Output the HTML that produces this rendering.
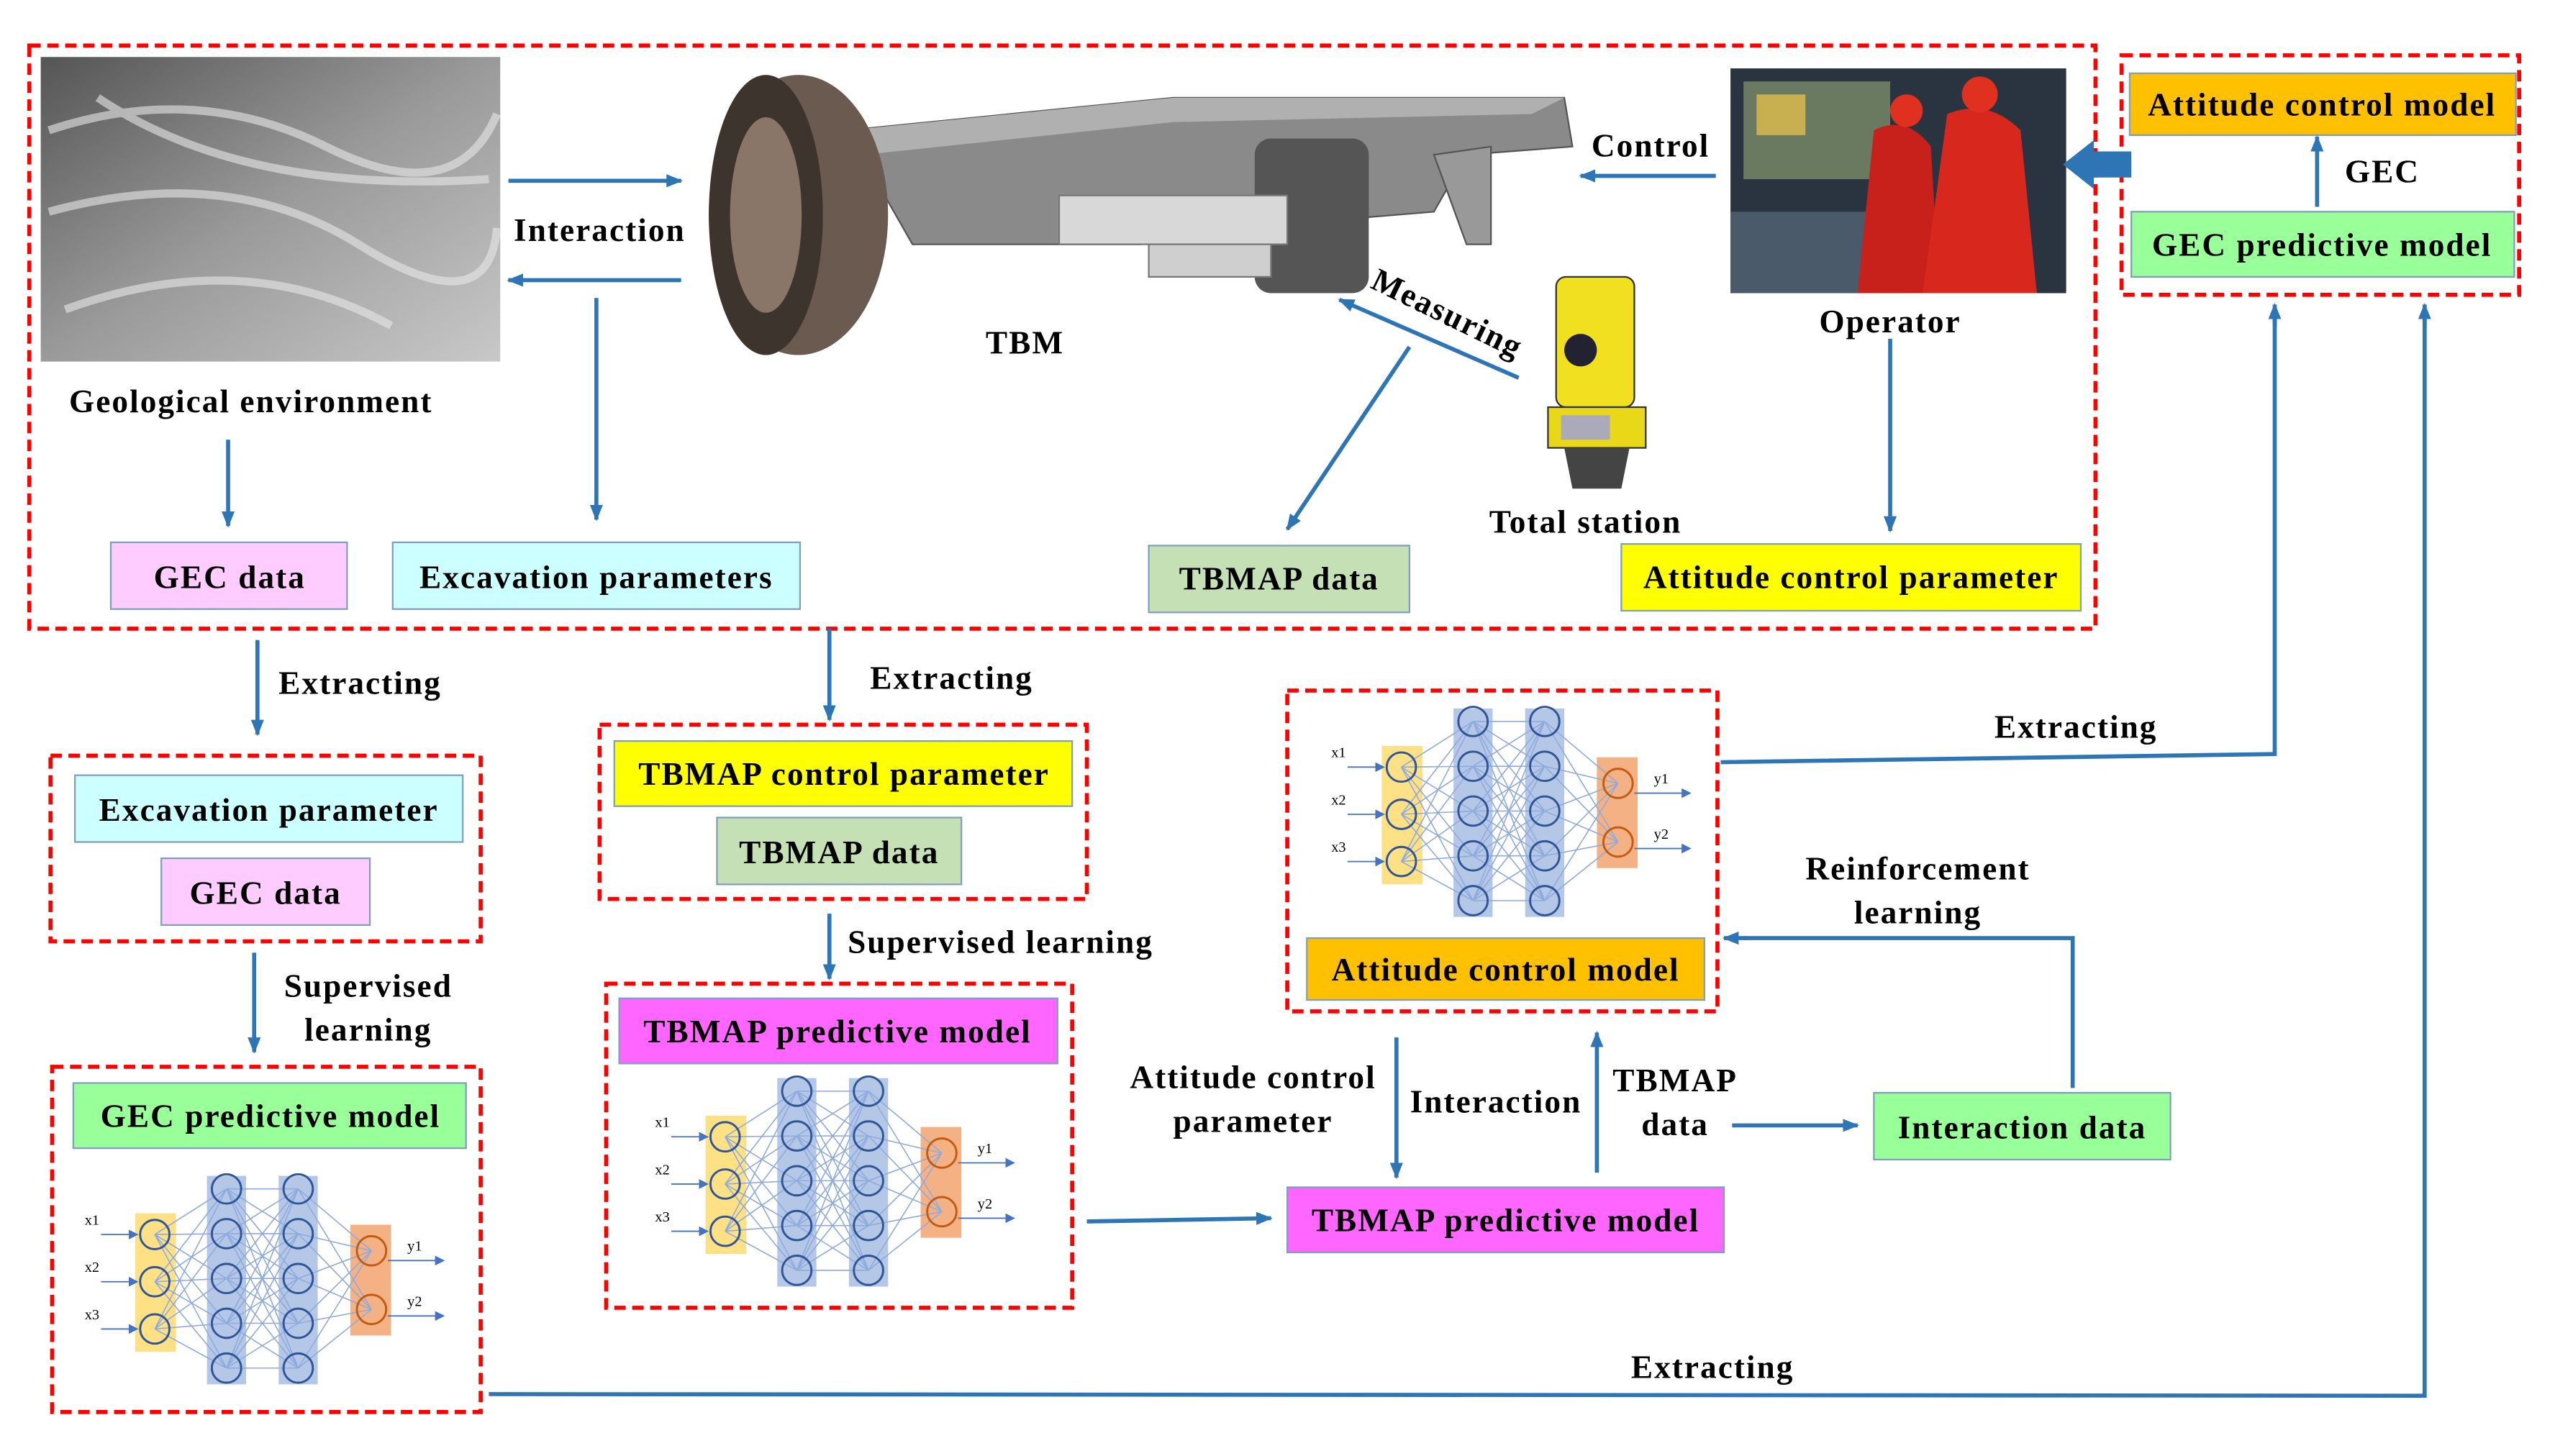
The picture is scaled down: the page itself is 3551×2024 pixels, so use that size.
<!DOCTYPE html>
<html><head><meta charset="utf-8"><style>
html,body{margin:0;padding:0;background:#fff}
svg{display:block}
text{font-family:"Liberation Serif",serif;font-weight:bold;font-size:20px;letter-spacing:0.9px;fill:#000}
.rd{fill:none;stroke:#ff0000;stroke-width:2.5;stroke-dasharray:7,4}
.bx{stroke:#7f9fbf;stroke-width:1}
.ar{stroke:#2e75b6;stroke-width:2.5;fill:none;marker-end:url(#ah)}
.ln{stroke:#2e75b6;stroke-width:2.5;fill:none}
</style></head><body>
<svg width="3551" height="2024" viewBox="0 0 1568 894" preserveAspectRatio="none" xmlns="http://www.w3.org/2000/svg">
<defs>
<marker id="ah" markerWidth="10" markerHeight="8" refX="9" refY="4" orient="auto" markerUnits="userSpaceOnUse"><path d="M0,0L10,4L0,8z" fill="#2e75b6"/></marker>
<marker id="sa" markerWidth="6" markerHeight="6" refX="5" refY="3" orient="auto" markerUnits="userSpaceOnUse"><path d="M0,0L6,3L0,6z" fill="#4472c4"/></marker>
<linearGradient id="geo" x1="0" y1="0" x2="1" y2="1"><stop offset="0" stop-color="#555"/><stop offset="0.5" stop-color="#9a9a9a"/><stop offset="1" stop-color="#c8c8c8"/></linearGradient>
<g id="nn">
<rect x="33" y="25" width="25" height="85" fill="#ffd966" opacity="0.8"/>
<rect x="77" y="2" width="24" height="128" fill="#b4c7e7"/>
<rect x="121" y="2" width="24" height="128" fill="#b4c7e7"/>
<rect x="165" y="32" width="25" height="68" fill="#f4b183"/>
<path stroke="#8faadc" stroke-width="0.7" fill="none" d="M45 38L89 10M45 38L89 37.5M45 38L89 65M45 38L89 92.5M45 38L89 120M45 67L89 10M45 67L89 37.5M45 67L89 65M45 67L89 92.5M45 67L89 120M45 96L89 10M45 96L89 37.5M45 96L89 65M45 96L89 92.5M45 96L89 120
M89 10L133 10M89 10L133 37.5M89 10L133 65M89 10L133 92.5M89 10L133 120M89 37.5L133 10M89 37.5L133 37.5M89 37.5L133 65M89 37.5L133 92.5M89 37.5L133 120M89 65L133 10M89 65L133 37.5M89 65L133 65M89 65L133 92.5M89 65L133 120M89 92.5L133 10M89 92.5L133 37.5M89 92.5L133 65M89 92.5L133 92.5M89 92.5L133 120M89 120L133 10M89 120L133 37.5M89 120L133 65M89 120L133 92.5M89 120L133 120
M133 10L178 48M133 37.5L178 48M133 65L178 48M133 92.5L178 48M133 120L178 48M133 10L178 84M133 37.5L178 84M133 65L178 84M133 92.5L178 84M133 120L178 84"/>
<g fill="none" stroke="#2f5597" stroke-width="1.3">
<circle cx="45" cy="38" r="9"/><circle cx="45" cy="67" r="9"/><circle cx="45" cy="96" r="9"/>
<circle cx="89" cy="10" r="9"/><circle cx="89" cy="37.5" r="9"/><circle cx="89" cy="65" r="9"/><circle cx="89" cy="92.5" r="9"/><circle cx="89" cy="120" r="9"/>
<circle cx="133" cy="10" r="9"/><circle cx="133" cy="37.5" r="9"/><circle cx="133" cy="65" r="9"/><circle cx="133" cy="92.5" r="9"/><circle cx="133" cy="120" r="9"/>
<circle cx="178" cy="48" r="9" stroke="#c55a11"/><circle cx="178" cy="84" r="9" stroke="#c55a11"/>
</g>
<g stroke="#4472c4" stroke-width="0.8" marker-end="url(#sa)"><line x1="12" y1="38" x2="34" y2="38"/><line x1="12" y1="67" x2="34" y2="67"/><line x1="12" y1="96" x2="34" y2="96"/><line x1="188" y1="54" x2="222" y2="54"/><line x1="188" y1="88" x2="222" y2="88"/></g>
<g><text x="2" y="32" style="font-size:9px;font-weight:normal;letter-spacing:0">x1</text><text x="2" y="61" style="font-size:9px;font-weight:normal;letter-spacing:0">x2</text><text x="2" y="90" style="font-size:9px;font-weight:normal;letter-spacing:0">x3</text><text x="200" y="48" style="font-size:9px;font-weight:normal;letter-spacing:0">y1</text><text x="200" y="82" style="font-size:9px;font-weight:normal;letter-spacing:0">y2</text></g>
</g>
</defs>

<rect class="rd" x="18" y="28" width="1268" height="358"/>
<rect class="rd" x="1302" y="34" width="244" height="147"/>
<rect class="rd" x="31" y="464" width="264" height="114"/>
<rect class="rd" x="368" y="445" width="299" height="107"/>
<rect class="rd" x="32" y="655" width="263" height="212"/>
<rect class="rd" x="372" y="604" width="286" height="199"/>
<rect class="rd" x="790" y="424" width="264" height="197"/>

<rect x="25" y="35" width="282" height="187" fill="url(#geo)"/>
<path d="M30 80Q120 50 200 90T305 70M30 130Q140 100 220 150T305 140M40 190Q150 150 240 200M60 60Q150 120 300 110" stroke="#e8e8e8" stroke-width="5" fill="none" opacity="0.6"/>

<polygon points="520,80 720,60 960,60 965,90 900,95 880,130 760,140 700,150 560,150" fill="#8a8a8a" stroke="#555"/>
<polygon points="520,80 720,60 960,60 940,70 720,75 530,95" fill="#b0b0b0"/>
<rect x="770" y="85" width="70" height="95" rx="10" fill="#555"/>
<rect x="650" y="120" width="140" height="30" fill="#d8d8d8" stroke="#777"/>
<rect x="705" y="150" width="75" height="20" fill="#cfcfcf" stroke="#777"/>
<ellipse cx="490" cy="132" rx="55" ry="86" fill="#6a5a50"/>
<ellipse cx="470" cy="132" rx="35" ry="86" fill="#3e342e"/>
<ellipse cx="470" cy="132" rx="22" ry="60" fill="#8a7668"/>
<polygon points="880,95 915,90 915,150 900,150" fill="#999" stroke="#555"/>

<rect x="1062" y="42" width="206" height="138" fill="#2a3440"/>
<rect x="1070" y="50" width="90" height="60" fill="#6a7a60"/><rect x="1078" y="58" width="30" height="25" fill="#c8b050"/>
<rect x="1062" y="130" width="110" height="50" fill="#4a5a6a"/>
<path d="M1150 80Q1170 70 1185 90L1190 180L1140 180Z" fill="#c8201a"/>
<path d="M1195 70Q1220 60 1240 80L1250 180L1180 180Z" fill="#d8281e"/>
<circle cx="1170" cy="68" r="10" fill="#e03020"/><circle cx="1215" cy="58" r="11" fill="#e03020"/>

<rect x="955" y="170" width="48" height="80" rx="6" fill="#f0e020" stroke="#333"/>
<circle cx="970" cy="215" r="10" fill="#223"/>
<rect x="950" y="250" width="60" height="25" fill="#e8d818" stroke="#333"/>
<rect x="958" y="255" width="30" height="15" fill="#aab"/>
<polygon points="960,275 1000,275 995,300 965,300" fill="#444"/>

<rect class="bx" x="68" y="333" width="145" height="41" fill="#ffccff"/>
<rect class="bx" x="241" y="333" width="250" height="41" fill="#ccffff"/>
<rect class="bx" x="705" y="335" width="160" height="41" fill="#c5e0b4"/>
<rect class="bx" x="995" y="334" width="282" height="41" fill="#ffff00"/>
<rect class="bx" x="1307" y="45" width="237" height="38" fill="#ffc000"/>
<rect class="bx" x="1308" y="130" width="235" height="40" fill="#99ff99"/>
<rect class="bx" x="46" y="476" width="238" height="41" fill="#ccffff"/>
<rect class="bx" x="99" y="527" width="128" height="41" fill="#ffccff"/>
<rect class="bx" x="377" y="455" width="281" height="40" fill="#ffff00"/>
<rect class="bx" x="440" y="502" width="150" height="41" fill="#c5e0b4"/>
<rect class="bx" x="45" y="665" width="241" height="40" fill="#99ff99"/>
<rect class="bx" x="380" y="613" width="269" height="40" fill="#ff66ff"/>
<rect class="bx" x="802" y="576" width="244" height="38" fill="#ffc000"/>
<rect class="bx" x="790" y="729" width="268" height="40" fill="#ff66ff"/>
<rect class="bx" x="1150" y="671" width="182" height="41" fill="#99ff99"/>

<use href="#nn" x="50" y="720"/>
<use href="#nn" x="400" y="660"/>
<use href="#nn" x="815" y="433"/>

<line class="ar" x1="312" y1="111" x2="418" y2="111"/>
<line class="ar" x1="418" y1="172" x2="312" y2="172"/>
<line class="ar" x1="366" y1="183" x2="366" y2="319"/>
<line class="ar" x1="140" y1="270" x2="140" y2="323"/>
<line class="ar" x1="1053" y1="108" x2="970" y2="108"/>
<line class="ar" x1="932" y1="232" x2="822" y2="184"/>
<line class="ar" x1="865" y1="213" x2="790" y2="325"/>
<line class="ar" x1="1160" y1="208" x2="1160" y2="326"/>
<polygon points="1308,93 1285,93 1285,86 1266,101 1285,116 1285,109 1308,109" fill="#2e75b6"/>
<line class="ar" x1="1422" y1="127" x2="1422" y2="84"/>
<line class="ar" x1="158" y1="393" x2="158" y2="451"/>
<line class="ar" x1="509" y1="386" x2="509" y2="442"/>
<line class="ar" x1="156" y1="585" x2="156" y2="646"/>
<line class="ar" x1="509" y1="561" x2="509" y2="601"/>
<polyline class="ln" points="1056,468 1396,463 1396,195"/>
<line class="ar" x1="1396" y1="200" x2="1396" y2="187"/>
<polyline class="ln" points="300,856 1488,857 1488,195"/>
<line class="ar" x1="1488" y1="200" x2="1488" y2="187"/>
<polyline class="ln" points="1272,668 1272,576 1070,576"/>
<line class="ar" x1="1072" y1="576" x2="1058" y2="576"/>
<line class="ar" x1="667" y1="750" x2="780" y2="748"/>
<line class="ar" x1="857" y1="637" x2="857" y2="723"/>
<line class="ar" x1="980" y1="720" x2="980" y2="634"/>
<line class="ar" x1="1063" y1="691" x2="1140" y2="691"/>

<g text-anchor="middle">
<text x="368" y="148">Interaction</text>
<text x="154" y="253">Geological environment</text>
<text x="629" y="217">TBM</text>
<text x="1013" y="96">Control</text>
<text x="1160" y="204">Operator</text>
<text x="973" y="327">Total station</text>
<text x="888" y="199" transform="rotate(26 888 193)">Measuring</text>
<text x="141" y="361">GEC data</text>
<text x="366" y="361">Excavation parameters</text>
<text x="785" y="362">TBMAP data</text>
<text x="1136" y="361">Attitude control parameter</text>
<text x="1425" y="71">Attitude control model</text>
<text x="1462" y="112">GEC</text>
<text x="1425" y="157">GEC predictive model</text>
<text x="221" y="426">Extracting</text>
<text x="584" y="423">Extracting</text>
<text x="165" y="504">Excavation parameter</text>
<text x="163" y="555">GEC data</text>
<text x="518" y="482">TBMAP control parameter</text>
<text x="515" y="530">TBMAP data</text>
<text x="226" y="612">Supervised</text>
<text x="226" y="639">learning</text>
<text x="614" y="585">Supervised learning</text>
<text x="166" y="692">GEC predictive model</text>
<text x="514" y="640">TBMAP predictive model</text>
<text x="1274" y="453">Extracting</text>
<text x="1177" y="540">Reinforcement</text>
<text x="1177" y="567">learning</text>
<text x="924" y="602">Attitude control model</text>
<text x="769" y="668">Attitude control</text>
<text x="769" y="695">parameter</text>
<text x="918" y="683">Interaction</text>
<text x="1028" y="670">TBMAP</text>
<text x="1028" y="697">data</text>
<text x="924" y="756">TBMAP predictive model</text>
<text x="1241" y="699">Interaction data</text>
<text x="1051" y="846">Extracting</text>
</g>
</svg>
</body></html>
